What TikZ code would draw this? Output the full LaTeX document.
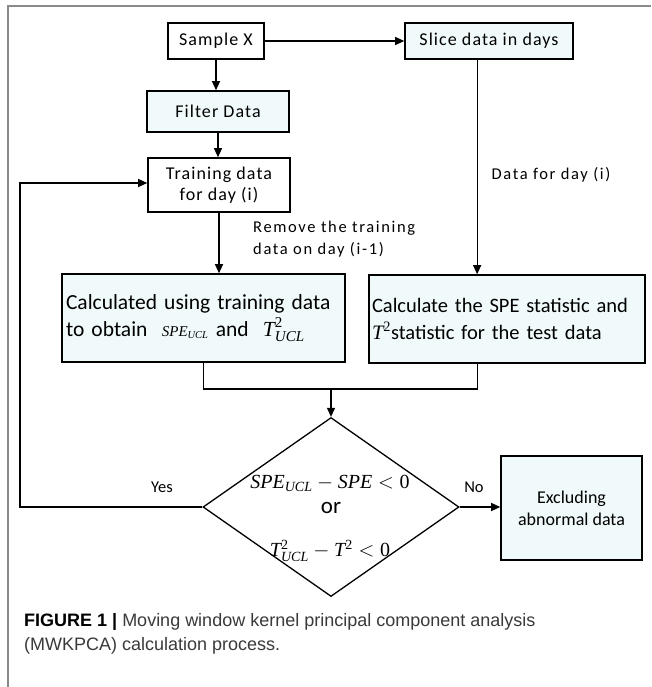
\documentclass[tikz,border=0pt]{standalone}
\usepackage{fontspec}
\usepackage{amsmath}
\usepackage{graphicx}
\setmainfont{Carlito}
\newfontfamily\capfont{Liberation Sans}
\newfontfamily\tms{Liberation Serif}
\usetikzlibrary{shapes.geometric,arrows.meta,calc}
\definecolor{boxfill}{HTML}{F0FAFB}
\definecolor{framegray}{HTML}{8A8A8A}
\definecolor{capgray}{HTML}{3A3A3A}
\newcommand\ti[1]{\text{\tms\itshape #1}}
\newcommand\tr[1]{\text{\tms #1}}
\begin{document}
\begin{tikzpicture}[x=1pt,y=-1pt,
  box/.style={draw=black,line width=1.6pt,inner sep=0pt,fill=white,align=center,font=\fontsize{18}{21}\selectfont\addfontfeature{LetterSpace=6}},
  cbox/.style={box,fill=boxfill},
  bigbox/.style={cbox,font=\fontsize{21.5}{27}\selectfont,align=left},
  arr/.style={line width=1.1pt,-{Triangle[length=9pt,width=8pt]}},
  ln/.style={line width=1.1pt},
  lbl/.style={font=\fontsize{16.5}{22}\selectfont\addfontfeature{LetterSpace=10},align=left,inner sep=0pt},
  dtext/.style={inner sep=0pt,font=\fontsize{20}{24}\selectfont}
]
\useasboundingbox (0,0) rectangle (651,687);
\fill[white] (0,0) rectangle (651,687);
\draw[framegray,line width=1.5pt] (8,687) -- (8,6) -- (651,6);

\node[box,minimum width=96pt,minimum height=36pt] (sample) at (216,41) {Sample X};
\node[cbox,minimum width=168pt,minimum height=36pt] (slice) at (489,41) {Slice data in days};
\node[cbox,minimum width=142pt,minimum height=41pt] (filter) at (218,111.5) {Filter Data};
\node[box,minimum width=142pt,minimum height=54pt] (train) at (219,185) {Training data\\for day (i)};
\node[bigbox,minimum width=283pt,minimum height=88pt,text width=275pt] (calc) at (203.5,318)
  {Calculated using training data\\to obtain \ {\fontsize{15}{15}\selectfont$\ti{SPE}_{\ti{UCL}}$} and \ {$\ti{T}^{\tr{2}}_{\ti{UCL}}$}};
\node[bigbox,minimum width=276pt,minimum height=88pt,text width=270pt,font=\fontsize{20.5}{27}\selectfont] (spe) at (507,319)
  {Calculate the SPE statistic and\\$\ti{T}^{\tr{2}}$statistic for the test data};
\node[draw,diamond,line width=1.3pt,minimum width=256pt,minimum height=179pt,inner sep=0pt] (dia) at (331,507) {};
\node[dtext] (c1) at (330,483) {$\ti{SPE}_{\ti{UCL}}-\ti{SPE}<\tr{0}$};
\node[dtext,font=\fontsize{23}{24}\selectfont] (c2) at (331,508) {or};
\node[dtext] (c3) at (330,551) {$\ti{T}^{\tr{2}}_{\ti{UCL}}-\ti{T}^{\tr{2}}<\tr{0}$};
\node[cbox,minimum width=141pt,minimum height=104pt,font=\fontsize{18}{22}\selectfont] (excl) at (571.5,508) {Excluding\\abnormal data};

\coordinate (sl) at ($(slice.south west)!0.43!(slice.south east)$);
\coordinate (mg) at (dia.north |- 0,389);

\draw[arr] (sample) -- (slice);
\draw[arr] (sample) -- (sample |- filter.north);
\draw[arr] (filter) -- (filter |- train.north);
\draw[arr] (train) -- (train |- calc.north);
\draw[arr] (sl) -- (sl |- spe.north);
\draw[ln] (calc.south) |- (mg) -| (sl |- spe.south);
\draw[arr] (mg) -- (dia.north);
\draw[arr] (dia.east) -- (excl.west |- dia.east);
\draw[arr] (dia.west) -- (20,507) -- (20,183) -- (train.west |- 0,183);

\node[lbl,anchor=west] (rm) at (253,239) {Remove the training\\data on day (i-1)};
\node[lbl] (dd) at (551,175) {Data for day (i)};
\node[lbl,font=\fontsize{16.5}{20}\selectfont] (yes) at (162,487) {Yes};
\node[lbl,font=\fontsize{16.5}{20}\selectfont] (no) at (474,487) {No};

\node[anchor=base west,inner sep=0pt,text=capgray,font=\capfont\fontsize{18}{24}\selectfont,align=left] (cap) at (24,650)
  {{\color{black}\textbf{FIGURE 1 |}} Moving window kernel principal component analysis\\(MWKPCA) calculation process.};
\end{tikzpicture}
\end{document}
